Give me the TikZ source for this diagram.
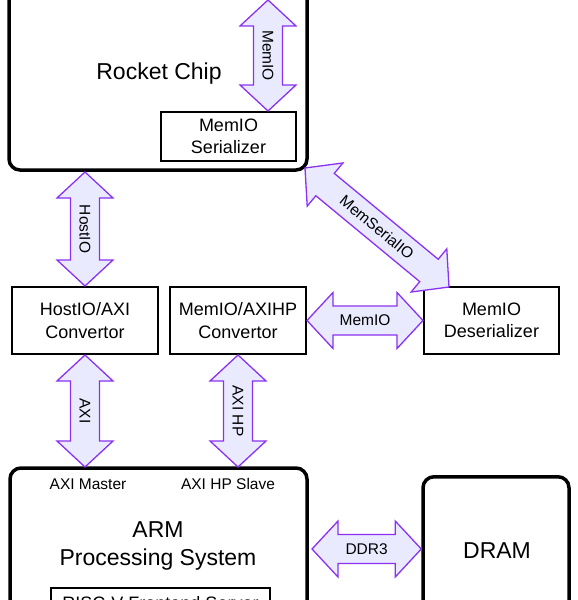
\documentclass[tikz,border=0pt]{standalone}
\usepackage{fontspec}
\setmainfont{Liberation Sans}
\usetikzlibrary{calc}
\definecolor{arrowline}{RGB}{138,50,240}
\definecolor{arrowfill}{RGB}{234,234,255}
\newcommand\fatarrow[5]{%
  \path[fatstyle] (#1) -- ($(#1)!26pt!(#2)!28pt!90:(#2)$) -- ($(#1)!26pt!(#2)!14.5pt!90:(#2)$)
    -- ($(#2)!26pt!(#1)!14.5pt!-90:(#1)$) -- ($(#2)!26pt!(#1)!28pt!-90:(#1)$) -- (#2)
    -- ($(#2)!26pt!(#1)!28pt!90:(#1)$) -- ($(#2)!26pt!(#1)!14.5pt!90:(#1)$)
    -- ($(#1)!26pt!(#2)!14.5pt!-90:(#2)$) -- ($(#1)!26pt!(#2)!28pt!-90:(#2)$) -- cycle;
  \node[arrowlabel, rotate=#4] (#5) at ($(#1)!0.5!(#2)$) {#3};
}
\tikzset{
  bigbox/.style={draw, line width=3.5pt, rounded corners=11pt, inner sep=0pt},
  smallbox/.style={draw, line width=2pt, inner sep=0pt, align=center,
    font=\fontsize{18}{22.5}\selectfont},
  biglabel/.style={align=center, inner sep=0pt, font=\fontsize{23}{28}\selectfont},
  arrowlabel/.style={inner sep=0pt, font=\fontsize{15.5}{18}\selectfont},
  portlabel/.style={inner sep=0pt, font=\fontsize{15.5}{18}\selectfont},
  fatstyle/.style={draw=arrowline, fill=arrowfill, line width=1.3pt, line join=miter},
}
\begin{document}
\begin{tikzpicture}[x=1pt, y=-1pt]
\useasboundingbox (0,0) rectangle (578,600);
\clip (0,0) rectangle (578,600);
% boxes
\node[bigbox, minimum width=298pt, minimum height=220pt] (rocket) at (158,60) {};
\node[biglabel] (rocketlbl) at (159,74) {Rocket Chip};
\node[smallbox, minimum width=135pt, minimum height=49pt] (ser) at (228.5,136.5) {MemIO\\Serializer};
\node[smallbox, minimum width=146pt, minimum height=67pt] (hostaxi) at (85,320.5) {HostIO/AXI\\Convertor};
\node[smallbox, minimum width=136pt, minimum height=67pt] (memaxi) at (238,320.5) {MemIO/AXIHP\\Convertor};
\node[smallbox, minimum width=135pt, minimum height=67pt] (deser) at (491.5,320.5) {MemIO\\Deserializer};
\node[bigbox, minimum width=297pt, minimum height=200pt] (arm) at (158.5,568) {};
\node[portlabel] (axim) at (88,484) {AXI Master};
\node[portlabel] (axis) at (228,484) {AXI HP Slave};
\node[biglabel] (armlbl) at (158,546) {ARM\\Processing System};
\node[smallbox, minimum width=219pt, minimum height=40pt, anchor=north] (riscv) at (160.5,587) {};
\node[inner sep=0pt, font=\fontsize{18}{22}\selectfont] (riscvlbl) at (160.5,603) {RISC-V Frontend Server};
\node[bigbox, minimum width=146pt, minimum height=200pt, anchor=north] (dram) at (496,475) {};
\node[biglabel] (dramlbl) at (497,551) {DRAM};
% connector end points
\coordinate (memtop) at (268,0);
\coordinate (membot) at (memtop |- ser.north);
\coordinate (hosttop) at (85,172);
\coordinate (hostbot) at (hosttop |- hostaxi.north);
\coordinate (axitop) at (hostaxi.south);
\coordinate (axibot) at (85,467);
\coordinate (hptop) at (memaxi.south);
\coordinate (hpbot) at (238,467);
\coordinate (msl) at (305,168);
\coordinate (msr) at (449,287);
\coordinate (ddrl) at (312,549);
\coordinate (ddrr) at (dram.west |- ddrl);
% fat arrows
\fatarrow{memtop}{membot}{MemIO}{-90}{memiolbl}
\fatarrow{hosttop}{hostbot}{HostIO}{-90}{hostiolbl}
\fatarrow{axitop}{axibot}{AXI}{-90}{axilbl}
\fatarrow{hptop}{hpbot}{AXI HP}{-90}{axihplbl}
\fatarrow{memaxi.east}{deser.west}{MemIO}{0}{memio2lbl}
\fatarrow{msl}{msr}{MemSerialIO}{-39.6}{mserlbl}
\fatarrow{ddrl}{ddrr}{DDR3}{0}{ddrlbl}
\end{tikzpicture}
\end{document}
